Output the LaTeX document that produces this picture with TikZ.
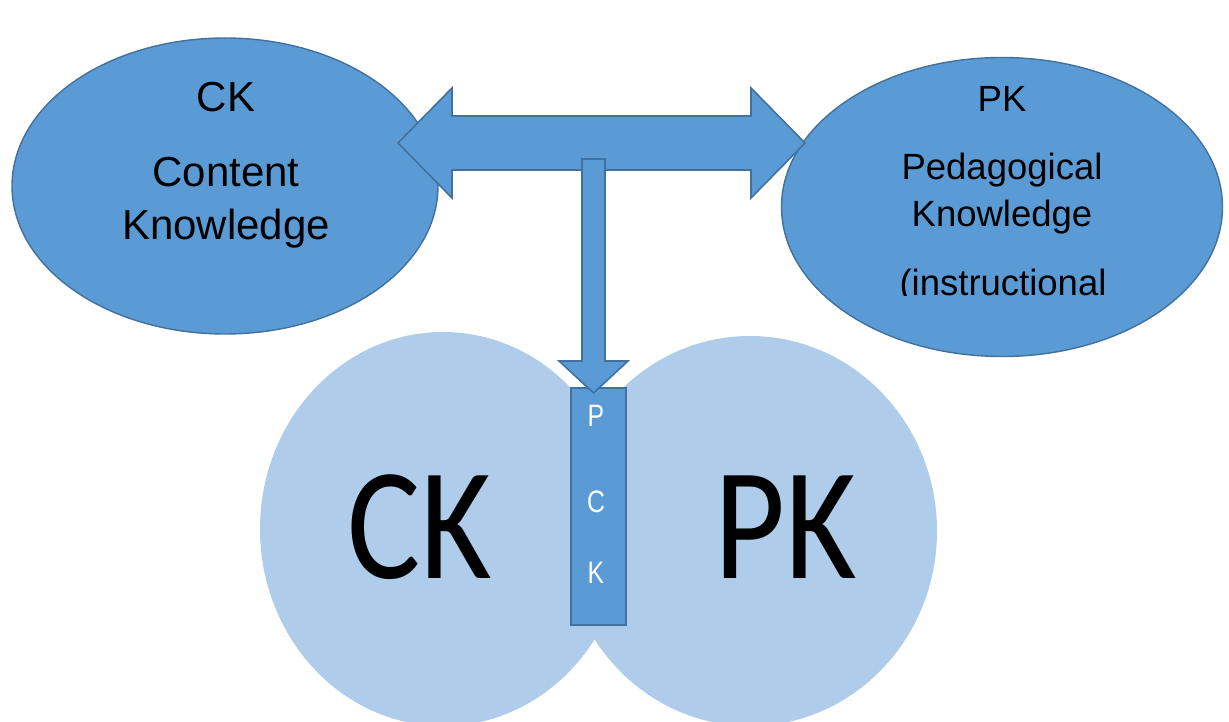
\documentclass[tikz,border=0pt]{standalone}
\usepackage{fontspec}
\setmainfont{Liberation Sans}
\newfontfamily\calib{Carlito}
\usetikzlibrary{shapes.geometric}
\definecolor{darkfill}{HTML}{5B9BD5}
\definecolor{darkline}{HTML}{41719C}
\definecolor{lightfill}{HTML}{AFCDEA}
\tikzset{
  topoval/.style={ellipse, fill=darkfill, draw=darkline, line width=1.4pt, inner sep=0pt},
  lobe/.style={ellipse, fill=lightfill, inner sep=0pt},
  blockarrow/.style={fill=darkfill, draw=darkline, line width=1.6pt, line join=miter},
  pckbox/.style={rectangle, fill=darkfill, draw=darkline, line width=1.6pt, inner sep=0pt},
  lbl/.style={anchor=base, inner sep=0pt},
  pcklbl/.style={text=white, inner sep=0pt, font=\fontsize{31}{31}\selectfont}
}
\begin{document}
\begin{tikzpicture}[x=1pt, y=-1pt]
\useasboundingbox (0,0) rectangle (1229,722);
% light lobes
\node[lobe, minimum width=374pt, minimum height=390pt] (rlobe) at (750,531) {};
\node[lobe, minimum width=366pt, minimum height=394pt] (llobe) at (443,529) {};
\node[lbl, font=\calib\fontsize{160}{160}\selectfont] (bigck) at (420,578) {\scalebox{0.86}[1]{CK}};
\node[lbl, font=\calib\fontsize{160}{160}\selectfont] (bigpk) at (786,578) {\scalebox{0.86}[1]{PK}};
% top ovals
\node[topoval, minimum width=426pt, minimum height=296pt] (ck) at (225,186) {};
\node[topoval, minimum width=441pt, minimum height=299pt] (pk) at (1002,207) {};
\node[lbl, font=\fontsize{42}{42}\selectfont] (cktitle) at (226,112) {CK};
\node[lbl, font=\fontsize{42}{42}\selectfont] (ckl1) at (226,187) {Content};
\node[lbl, font=\fontsize{42}{42}\selectfont] (ckl2) at (226,240) {Knowledge};
\node[lbl, font=\fontsize{36.5}{36.5}\selectfont] (pktitle) at (1002,112) {PK};
\node[lbl, font=\fontsize{36.5}{36.5}\selectfont] (pkl1) at (1002,180) {Pedagogical};
\node[lbl, font=\fontsize{36.5}{36.5}\selectfont] (pkl2) at (1002,227) {Knowledge};
\begin{scope}
\clip (780,0) rectangle (1229,295);
\node[lbl, font=\fontsize{36.5}{36.5}\selectfont] (pkl3) at (1003,295) {(instructional};
\end{scope}
% double arrow
\draw[blockarrow] (398,143) -- (452,88) -- (452,116) -- (751,116) -- (751,88) -- (805,143)
  -- (751,198) -- (751,170) -- (452,170) -- (452,198) -- cycle;
% PCK box
\node[pckbox, minimum width=55pt, minimum height=237pt] (pck) at (598.5,506.5) {};
\node[pcklbl] (pckp) at (596,416) {\scalebox{0.8}[1]{P}};
\node[pcklbl] (pckc) at (596,502) {\scalebox{0.8}[1]{C}};
\node[pcklbl] (pckk) at (596,573) {\scalebox{0.8}[1]{K}};
% down arrow
\draw[blockarrow] (582,159) -- (605,159) -- (605,361) -- (628,361) -- (593.5,393)
  -- (559,361) -- (582,361) -- cycle;
\end{tikzpicture}
\end{document}
